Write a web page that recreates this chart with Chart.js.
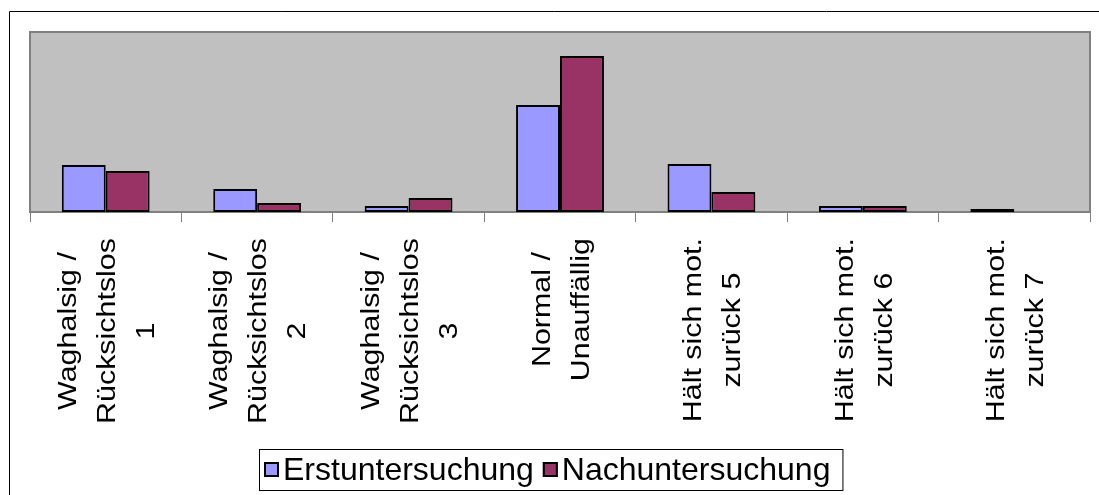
<!DOCTYPE html>
<html>
<head>
<meta charset="utf-8">
<script src="https://cdn.jsdelivr.net/npm/chart.js@4/dist/chart.umd.min.js"></script>
<style>
    html, body { margin: 0; padding: 0; background: #ffffff; }
    #wrap { position: relative; width: 1099px; height: 495px; }
</style>
</head>
<body>
<div id="wrap"><canvas id="chart" width="1099" height="495"></canvas></div>
<script>
// categories (each one is drawn as stacked lines of rotated text)
const categories = [
    ["Waghalsig /", "Rücksichtslos", "1"],
    ["Waghalsig /", "Rücksichtslos", "2"],
    ["Waghalsig /", "Rücksichtslos", "3"],
    ["Normal /", "Unauffällig"],
    ["Hält sich mot.", "zurück 5"],
    ["Hält sich mot.", "zurück 6"],
    ["Hält sich mot.", "zurück 7"],
];
const seriesNames = ["Erstuntersuchung", "Nachuntersuchung"];
// values (no axis labels in the original)
const erstValues = [47, 23, 6, 107, 48, 6, 3];
const nachValues = [41, 9, 14, 156, 20, 6, 0];
const yMax = 180;

const colors = ["#9999ff", "#993366"];
const labelFontSize = 26;
const labelFont = labelFontSize + "px 'Liberation Sans', Arial, sans-serif";
const legendFontSize = 32;
const legendFont = legendFontSize + "px 'Liberation Sans', Arial, sans-serif";

// frame, plot background, rotated category labels and the boxed legend
const excelLook = {
    id: "excelLook",
    beforeDraw(chart) {
        const ctx = chart.ctx;
        ctx.save();
        ctx.strokeStyle = "#000000";
        ctx.lineWidth = 1;
        ctx.beginPath();
        ctx.moveTo(9.5, chart.height);
        ctx.lineTo(9.5, 11.5);
        ctx.lineTo(chart.width, 11.5);
        ctx.stroke();
        ctx.restore();
    },
    beforeDatasetsDraw(chart) {
        const ctx = chart.ctx;
        const a = chart.chartArea;
        ctx.save();
        ctx.fillStyle = "#c0c0c0";
        ctx.fillRect(a.left, a.top, a.right - a.left, a.bottom - a.top);
        ctx.strokeStyle = "#808080";
        ctx.lineWidth = 2;
        ctx.strokeRect(a.left, a.top, a.right - a.left, a.bottom - a.top);
        ctx.restore();
    },
    afterDraw(chart) {
        const ctx = chart.ctx;
        const xs = chart.scales.x;
        const stretch = 1.17, pitch = 39, labelTop = 238;

        ctx.save();
        ctx.font = labelFont;
        ctx.fillStyle = "#000000";
        ctx.textAlign = "center";
        ctx.textBaseline = "alphabetic";
        categories.forEach((lines, i) => {
            const cx = xs.getPixelForValue(i);
            const maxW = Math.max(...lines.map((l) => ctx.measureText(l).width)) * stretch;
            const cy = labelTop + maxW / 2;
            lines.forEach((line, j) => {
                const lx = cx + (j - (lines.length - 1) / 2) * pitch;
                ctx.save();
                ctx.translate(lx, cy);
                ctx.rotate(-Math.PI / 2);
                ctx.scale(stretch, 1);
                ctx.fillText(line, 0, labelFontSize * 0.716 / 2);
                ctx.restore();
            });
        });
        ctx.restore();

        // legend
        ctx.save();
        ctx.font = legendFont;
        const items = chart.data.datasets.map((ds) => ({
            text: ds.label,
            color: ds.backgroundColor,
            w: ctx.measureText(ds.label).width,
        }));
        const sq = 15, gapText = 4, gapItem = 9, padL = 5, padR = 12;
        let total = padL + padR + gapItem * (items.length - 1);
        items.forEach((it) => { total += sq + gapText + it.w; });
        const boxTop = 449, boxH = 41;
        let x = Math.round(551 - total / 2);
        ctx.strokeStyle = "#000000";
        ctx.lineWidth = 1;
        ctx.strokeRect(x + 0.5, boxTop + 0.5, total, boxH);
        x += padL;
        const capMid = boxTop + 20;
        items.forEach((it) => {
            ctx.fillStyle = it.color;
            ctx.fillRect(x, capMid - 7, sq, sq);
            ctx.strokeStyle = "#000000";
            ctx.lineWidth = 2;
            ctx.strokeRect(x + 1, capMid - 6, sq - 2, sq - 2);
            ctx.fillStyle = "#000000";
            ctx.textAlign = "left";
            ctx.textBaseline = "alphabetic";
            ctx.fillText(it.text, x + sq + gapText, capMid + legendFontSize * 0.716 / 2);
            x += sq + gapText + it.w + gapItem;
        });
        ctx.restore();
    },
};

const ctx = document.getElementById("chart").getContext("2d");
new Chart(ctx, {
    type: "bar",
    data: {
        labels: categories,
        datasets: [
            {
                label: seriesNames[0],
                data: erstValues,
                backgroundColor: colors[0],
                borderColor: "#000000",
                borderWidth: 2,
                borderSkipped: false,
            },
            {
                label: seriesNames[1],
                data: nachValues,
                backgroundColor: colors[1],
                borderColor: "#000000",
                borderWidth: 2,
                borderSkipped: false,
            },
        ],
    },
    options: {
        responsive: false,
        animation: false,
        devicePixelRatio: 1,
        categoryPercentage: 0.58,
        barPercentage: 1.0,
        layout: { padding: { left: 30, top: 32, right: 9, bottom: 273 } },
        plugins: {
            legend: { display: false },
            tooltip: { enabled: false },
        },
        scales: {
            x: {
                grid: {
                    display: true,
                    offset: true,
                    drawOnChartArea: false,
                    drawTicks: true,
                    tickLength: 10,
                    color: "#808080",
                    lineWidth: 1,
                },
                border: { display: false },
                ticks: { display: false },
            },
            y: {
                display: false,
                min: 0,
                max: yMax,
            },
        },
    },
    plugins: [excelLook],
});
</script>
</body>
</html>
